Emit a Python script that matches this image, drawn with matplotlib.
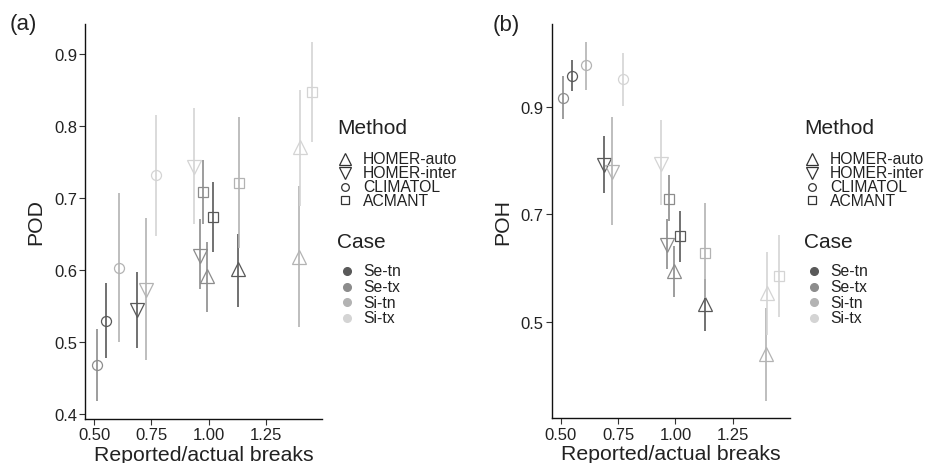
import matplotlib
matplotlib.use("Agg")
from matplotlib import pyplot as plt
from matplotlib.lines import Line2D

plt.rcParams['font.family'] = ['Liberation Sans', 'DejaVu Sans']

# data: order of cases within every method list
cases = ["Se-tn", "Se-tx", "Si-tn", "Si-tx"]
case_colors = ["#595959", "#8c8c8c", "#b3b3b3", "#d4d4d4"]
methods = ["HOMER-auto", "HOMER-inter", "CLIMATOL", "ACMANT"]
method_markers = ["^", "v", "o", "s"]

# reported/actual breaks ratio
ratio = {
    "HOMER-auto": [1.127, 0.995, 1.394, 1.400],
    "HOMER-inter": [0.687, 0.964, 0.725, 0.937],
    "CLIMATOL": [0.550, 0.510, 0.608, 0.770],
    "ACMANT": [1.021, 0.974, 1.131, 1.452],
}

# POD with confidence interval
pod = {
    "HOMER-auto": [0.601, 0.592, 0.618, 0.771],
    "HOMER-inter": [0.544, 0.619, 0.572, 0.742],
    "CLIMATOL": [0.529, 0.468, 0.603, 0.731],
    "ACMANT": [0.673, 0.708, 0.721, 0.846],
}
pod_lo = {
    "HOMER-auto": [0.549, 0.541, 0.520, 0.689],
    "HOMER-inter": [0.492, 0.573, 0.475, 0.663],
    "CLIMATOL": [0.478, 0.418, 0.500, 0.647],
    "ACMANT": [0.625, 0.664, 0.630, 0.777],
}
pod_hi = {
    "HOMER-auto": [0.649, 0.638, 0.716, 0.850],
    "HOMER-inter": [0.597, 0.670, 0.672, 0.825],
    "CLIMATOL": [0.581, 0.518, 0.706, 0.815],
    "ACMANT": [0.722, 0.752, 0.812, 0.916],
}

# POH with confidence interval
poh = {
    "HOMER-auto": [0.534, 0.594, 0.441, 0.554],
    "HOMER-inter": [0.791, 0.643, 0.779, 0.794],
    "CLIMATOL": [0.958, 0.917, 0.977, 0.951],
    "ACMANT": [0.659, 0.729, 0.629, 0.585],
}
poh_lo = {
    "HOMER-auto": [0.484, 0.546, 0.354, 0.475],
    "HOMER-inter": [0.740, 0.599, 0.681, 0.717],
    "CLIMATOL": [0.930, 0.878, 0.932, 0.901],
    "ACMANT": [0.611, 0.687, 0.545, 0.509],
}
poh_hi = {
    "HOMER-auto": [0.580, 0.642, 0.526, 0.630],
    "HOMER-inter": [0.846, 0.692, 0.881, 0.875],
    "CLIMATOL": [0.988, 0.957, 1.021, 1.000],
    "ACMANT": [0.707, 0.774, 0.721, 0.661],
}

W, H = 932, 464
fig = plt.figure(figsize=(W / 100, H / 100), dpi=100)

def px_axes(l, r, t, b):
    return fig.add_axes([l / W, 1 - b / H, (r - l) / W, (b - t) / H])

marker_size = {"^": 9.5, "v": 9.5, "o": 7.2, "s": 6.6}
text_col = "#222222"

def panel(ax, val, lo, hi, ylab, yticks, ylim, tag):
    for m, mk in zip(methods, method_markers):
        for i in range(len(cases)):
            ax.vlines(ratio[m][i], lo[m][i], hi[m][i], color=case_colors[i], lw=1.2)
            ax.plot(ratio[m][i], val[m][i], marker=mk, ms=marker_size[mk],
                    mfc="none", mec=case_colors[i], mew=0.9, ls="none")
    ax.set_xlim(0.461, 1.498)
    ax.set_ylim(*ylim)
    ax.set_xticks([0.5, 0.75, 1.0, 1.25])
    ax.set_xticklabels(["0.50", "0.75", "1.00", "1.25"])
    ax.set_yticks(yticks)
    ax.set_yticklabels([str(v) for v in yticks])
    for s in ["top", "right"]:
        ax.spines[s].set_visible(False)
    for s in ["left", "bottom"]:
        ax.spines[s].set_color("#111111")
        ax.spines[s].set_linewidth(1.0)
    ax.tick_params(length=4, width=0.8, color="#333333", labelsize=12,
                   labelcolor=text_col, pad=2)
    ax.set_xlabel("Reported/actual breaks", fontsize=15.3, color=text_col, labelpad=2)
    ax.set_ylabel(ylab, fontsize=15.3, color=text_col, labelpad=6)
    ax.text(-0.32 if tag == "(a)" else -0.25, 1.0, tag, transform=ax.transAxes,
            fontsize=16, color=text_col, va="center", ha="left")

ax1 = px_axes(85.4, 322.4, 25, 420)
ax2 = px_axes(552, 789.5, 25, 419.3)
panel(ax1, pod, pod_lo, pod_hi, "POD", [0.4, 0.5, 0.6, 0.7, 0.8, 0.9], (0.393, 0.941), "(a)")
panel(ax2, poh, poh_lo, poh_hi, "POH", [0.5, 0.7, 0.9], (0.321, 1.054), "(b)")

# legends, drawn in pixel positions
def legend(x0):
    def fx(x):
        return x / W
    def fy(y):
        return 1 - y / H
    fig.text(fx(x0), fy(128), "Method", fontsize=15, color=text_col, va="center", ha="left")
    leg_ms = {"^": 8.5, "v": 8.5, "o": 5.5, "s": 5.5}
    for j, (m, mk) in enumerate(zip(methods, method_markers)):
        y = 160 + j * 13.8
        fig.add_artist(Line2D([fx(x0 + 8)], [fy(y)], marker=mk, ms=leg_ms[mk], mfc="none",
                              mec="#333333", mew=0.9, ls="none", transform=fig.transFigure))
        fig.text(fx(x0 + 26), fy(y), m, fontsize=11.3, color=text_col, va="center", ha="left")
    fig.text(fx(x0), fy(243), "Case", fontsize=15, color=text_col, va="center", ha="left")
    for j, (c, col) in enumerate(zip(cases, case_colors)):
        y = 272 + j * 15.5
        fig.add_artist(Line2D([fx(x0 + 9.5)], [fy(y)], marker="o", ms=5.5, mfc=col,
                              mec=col, ls="none", transform=fig.transFigure))
        fig.text(fx(x0 + 26), fy(y), c, fontsize=11.3, color=text_col, va="center", ha="left")

legend(337)
legend(804)

plt.savefig("out.png", dpi=100)
